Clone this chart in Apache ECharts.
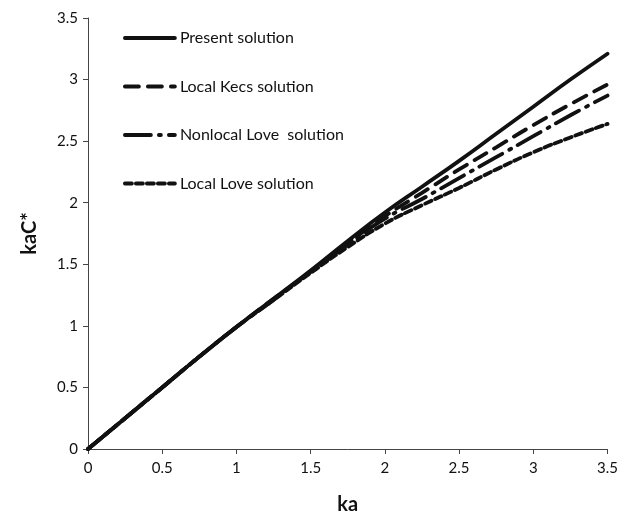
<!DOCTYPE html>
<html>
<head>
<meta charset="utf-8">
<script src="https://cdn.jsdelivr.net/npm/echarts@6/dist/echarts.min.js"></script>
<style>
  html, body { margin: 0; padding: 0; background: #fff; }
  #chart { width: 621px; height: 521px; }
</style>
</head>
<body>
<div id="chart"></div>
<script>
// values
var ka = [0, 0.25, 0.5, 0.75, 1, 1.25, 1.5, 1.75, 2, 2.25, 2.5, 2.75, 3, 3.25, 3.5];
var present = [0, 0.25, 0.5, 0.75, 0.99, 1.22, 1.45, 1.69, 1.92, 2.13, 2.34, 2.56, 2.78, 3.0, 3.21];
var localKecs = [0, 0.25, 0.5, 0.75, 0.99, 1.22, 1.44, 1.67, 1.89, 2.08, 2.27, 2.45, 2.63, 2.8, 2.96];
var nonlocalLove = [0, 0.25, 0.5, 0.75, 0.99, 1.21, 1.44, 1.66, 1.87, 2.03, 2.2, 2.37, 2.54, 2.71, 2.87];
var localLove = [0, 0.25, 0.5, 0.75, 0.99, 1.21, 1.43, 1.64, 1.83, 1.98, 2.12, 2.27, 2.41, 2.53, 2.64];
var names = ['Present solution', 'Local Kecs solution', 'Nonlocal Love  solution', 'Local Love solution'];

function pairs(ys) {
  return ka.map(function (x, i) { return [x, ys[i]]; });
}

var chart = echarts.init(document.getElementById('chart'));
var font = 'Lato, "Open Sans", sans-serif';

function line(name, ys, type) {
  return {
    name: name,
    type: 'line',
    data: pairs(ys),
    smooth: true,
    symbol: 'none',
    lineStyle: { color: '#111', width: 3.8, type: type, cap: 'round' },
    itemStyle: { color: '#111' }
  };
}

chart.setOption({
  animation: false,
  grid: { left: 88, right: 10, top: 18, bottom: 72 },
  legend: {
    orient: 'vertical',
    left: 118,
    top: 25,
    padding: 5,
    itemWidth: 50,
    itemHeight: 14,
    itemGap: 32.5,
    itemStyle: { opacity: 0 },
    lineStyle: { width: 3.8 },
    textStyle: { fontFamily: font, fontSize: 16, color: '#111' },
    data: names
  },
  xAxis: {
    type: 'value',
    min: 0, max: 3.5, interval: 0.5,
    name: 'ka',
    nameLocation: 'middle',
    nameGap: 46,
    nameTextStyle: { fontFamily: font, fontSize: 20, fontWeight: 'bold', color: '#111' },
    axisLine: { lineStyle: { color: '#444', width: 1 } },
    axisTick: { show: true, length: 5, lineStyle: { color: '#444' } },
    axisLabel: { fontFamily: font, fontSize: 15, color: '#111', margin: 12 },
    splitLine: { show: false }
  },
  yAxis: {
    type: 'value',
    min: 0, max: 3.5, interval: 0.5,
    name: 'kaC*',
    nameLocation: 'middle',
    nameGap: 48,
    nameRotate: 90,
    nameTextStyle: { fontFamily: font, fontSize: 20, fontWeight: 'bold', color: '#111' },
    axisLine: { show: true, lineStyle: { color: '#444', width: 1 } },
    axisTick: { show: true, length: 5, lineStyle: { color: '#444' } },
    axisLabel: { fontFamily: font, fontSize: 15, color: '#111', margin: 10 },
    splitLine: { show: false }
  },
  series: [
    line(names[0], present, 'solid'),
    line(names[1], localKecs, [14, 9]),
    line(names[2], nonlocalLove, [26, 8, 2, 8]),
    line(names[3], localLove, [7, 4])
  ]
});
</script>
</body>
</html>
